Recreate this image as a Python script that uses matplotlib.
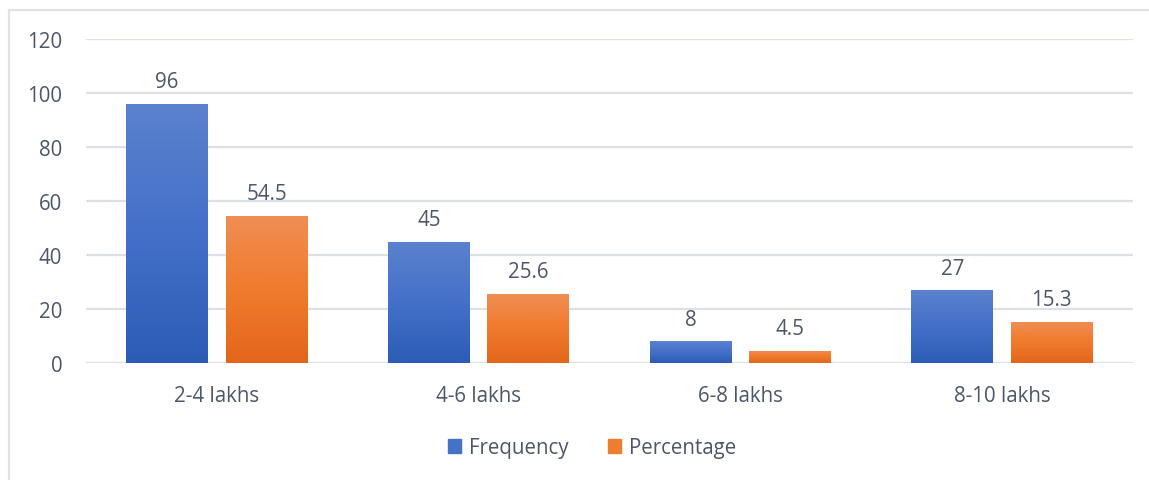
import numpy as np
import matplotlib
matplotlib.use("Agg")
import matplotlib.pyplot as plt
from matplotlib.patches import Rectangle
from matplotlib.colors import LinearSegmentedColormap

categories = ["2-4 lakhs", "4-6 lakhs", "6-8 lakhs", "8-10 lakhs"]
frequency = [96, 45, 8, 27]
percentage = [54.5, 25.6, 4.5, 15.3]
yticks = [0, 20, 40, 60, 80, 100, 120]

plt.rcParams["font.family"] = ["Open Sans", "DejaVu Sans"]
text_col = "#4d5768"
grid_col = "#dde1e7"
fs = 14.8

fig = plt.figure(figsize=(11.49, 4.81), dpi=100)
ax = fig.add_axes([0.0748, 0.2432, 0.9112, 0.6736])

# chart frame (left + top edges visible in the reference)
fig.add_artist(Rectangle((9 / 1149, -0.1), 1.2, 1 - 11 / 481 + 0.1,
                         transform=fig.transFigure, fill=False,
                         edgecolor="#dfe3e8", linewidth=1.6))

x = np.arange(len(categories))
w = 0.313
off = 0.19

blue_cm = LinearSegmentedColormap.from_list("b", ["#2c5cb6", "#4470c8", "#5b82cf"])
orng_cm = LinearSegmentedColormap.from_list("o", ["#e3661a", "#f07b2c", "#f08e55"])
grad = np.linspace(0, 1, 256).reshape(-1, 1)


def gradient_bars(xs, vals, cmap, solid):
    bars = ax.bar(xs, vals, width=w, color=solid, zorder=2, linewidth=0)
    for b in bars:
        x0, y0 = b.get_x(), b.get_y()
        im = ax.imshow(grad, cmap=cmap, aspect="auto", origin="lower",
                       extent=[x0, x0 + b.get_width(), y0, y0 + b.get_height()],
                       zorder=3)
        im.set_clip_path(b)
    return bars


b1 = gradient_bars(x - off, frequency, blue_cm, "#4472c4")
b2 = gradient_bars(x + off, percentage, orng_cm, "#ed7d31")

for xs, vals in [(x - off, frequency), (x + off, percentage)]:
    for xi, v in zip(xs, vals):
        ax.text(xi, v + 4.3, f"{v:g}", ha="center", va="bottom",
                fontsize=fs, color=text_col)

ax.set_xlim(-0.5, len(categories) - 0.5)
ax.set_ylim(0, 120)
ax.set_yticks(yticks)
ax.set_xticks(x)
ax.set_xticklabels(categories)
ax.yaxis.grid(True, color=grid_col, linewidth=1.6, zorder=0)
ax.set_axisbelow(True)
for s in ax.spines.values():
    s.set_visible(False)
ax.tick_params(axis="both", length=0, labelsize=fs, labelcolor=text_col)
ax.tick_params(axis="x", pad=16)
ax.tick_params(axis="y", pad=17)

handles = [Rectangle((0, 0), 1, 1, color="#4472c4"),
           Rectangle((0, 0), 1, 1, color="#ed7d31")]
fig.legend(handles, ["Frequency", "Percentage"], loc="center",
           bbox_to_anchor=(592 / 1149, 1 - 449 / 481), ncol=2, frameon=False,
           fontsize=fs, labelcolor=text_col, handlelength=0.65,
           handleheight=0.65, handletextpad=0.4, columnspacing=1.9)

fig.savefig("out.png", dpi=100)
